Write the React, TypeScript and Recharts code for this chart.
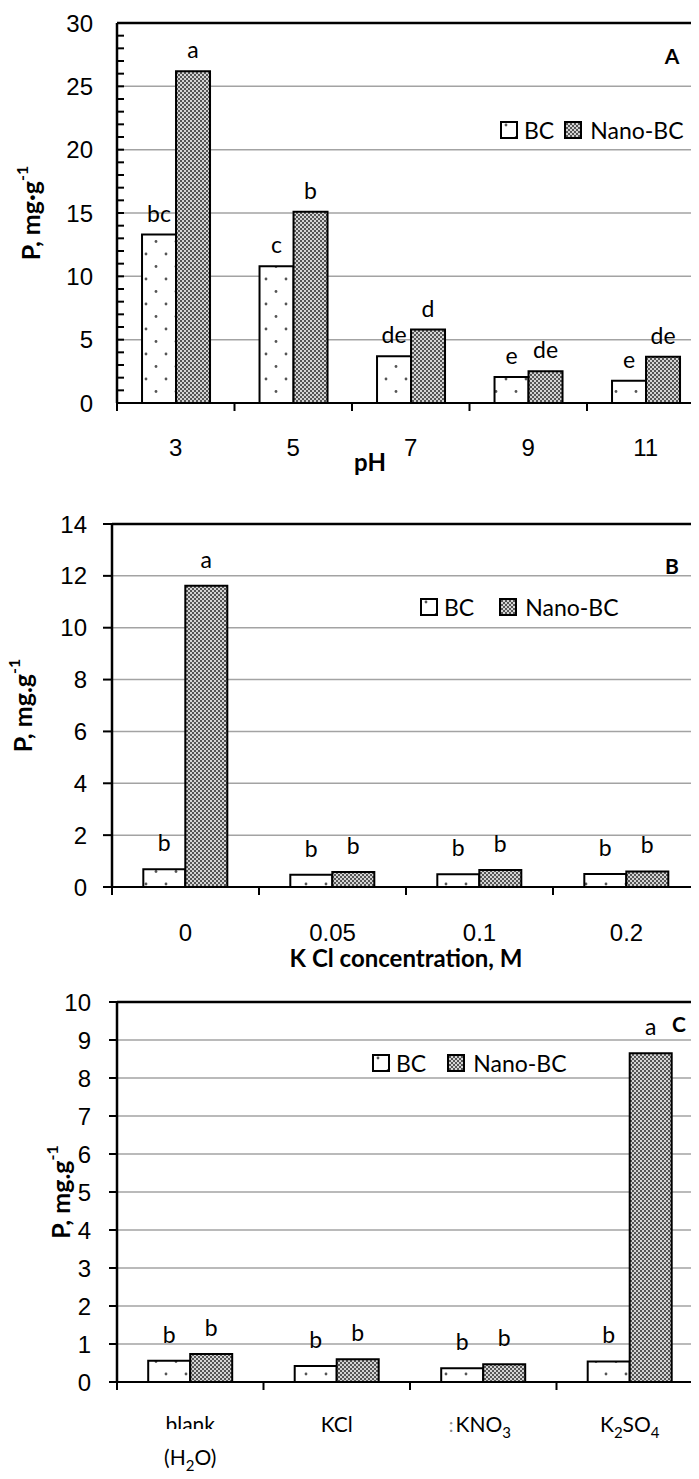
import React from 'react';
import { BarChart, Bar, XAxis, YAxis, CartesianGrid, ReferenceLine, LabelList, Legend } from 'recharts';

// ---------- Panel A: pH ----------
const phCategories = ['3', '5', '7', '9', '11'];
const phBC = [13.3, 10.8, 3.7, 2.05, 1.75];
const phNano = [26.2, 15.1, 5.8, 2.5, 3.65];
const phBCLetters = ['bc', 'c', 'de', 'e', 'e'];
const phNanoLetters = ['a', 'b', 'd', 'de', 'de'];
const phTicks = [0, 5, 10, 15, 20, 25, 30];
const phMinorTicks = [1, 2, 3, 4, 5, 6, 7, 8, 9, 10, 11, 12, 13, 14, 15, 16, 17, 18, 19, 20, 21, 22, 23, 24, 25, 26, 27, 28, 29];

// ---------- Panel B: KCl concentration ----------
const kclCategories = ['0', '0.05', '0.1', '0.2'];
const kclBC = [0.68, 0.47, 0.49, 0.5];
const kclNano = [11.62, 0.58, 0.66, 0.6];
const kclBCLetters = ['b', 'b', 'b', 'b'];
const kclNanoLetters = ['a', 'b', 'b', 'b'];
const kclTicks = [0, 2, 4, 6, 8, 10, 12, 14];

// ---------- Panel C: salts ----------
const saltCategories = ['blank', 'KCl', 'KNO3', 'K2SO4'];
const saltBC = [0.56, 0.42, 0.36, 0.54];
const saltNano = [0.74, 0.6, 0.47, 8.65];
const saltBCLetters = ['b', 'b', 'b', 'b'];
const saltNanoLetters = ['b', 'b', 'b', 'a'];
const saltTicks = [0, 1, 2, 3, 4, 5, 6, 7, 8, 9, 10];

const buildRows = (cats: string[], bc: number[], nano: number[], bcL: string[], nanoL: string[]) =>
  cats.map((c, i) => ({ cat: c, bc: bc[i], nano: nano[i], bcL: bcL[i], nanoL: nanoL[i] }));

const rowsA = buildRows(phCategories, phBC, phNano, phBCLetters, phNanoLetters);
const rowsB = buildRows(kclCategories, kclBC, kclNano, kclBCLetters, kclNanoLetters);
const rowsC = buildRows(saltCategories, saltBC, saltNano, saltBCLetters, saltNanoLetters);

const ARIAL = '"Liberation Sans", Arial, sans-serif';
const CALIBRI = 'Lato, "Open Sans", sans-serif';
const CHART_W = 712;
const NUM_FONT = 24;
const LETTER_FONT = 23;

const Patterns = ({ id }: { id: string }) => (
  <defs>
    <pattern id={`dots-${id}`} patternUnits="userSpaceOnUse" width={20} height={25}>
      <rect x={0} y={0} width={20} height={25} fill="#fff" />
      <circle cx={6} cy={4} r={1.4} fill="#555" />
      <circle cx={16} cy={16.5} r={1.4} fill="#555" />
    </pattern>
    <pattern id={`check-${id}`} patternUnits="userSpaceOnUse" width={4} height={4}>
      <rect x={0} y={0} width={4} height={4} fill="#d4d4d4" />
      <rect x={0} y={0} width={2} height={2} fill="#555" />
      <rect x={2} y={2} width={2} height={2} fill="#555" />
    </pattern>
  </defs>
);

const Swatch = ({ kind, id }: { kind: 'dots' | 'check'; id: string }) => (
  <svg width={18} height={18} style={{ display: 'block' }}>
    <Patterns id={`sw-${id}`} />
    <rect x={1} y={1} width={16} height={16} fill={`url(#${kind}-sw-${id})`} stroke="#000" strokeWidth={2} />
  </svg>
);

const makeLegend = (id: string, gap: number) => () => (
  <div style={{ display: 'flex', alignItems: 'center', fontFamily: CALIBRI, fontSize: 23, color: '#000', lineHeight: '26px', whiteSpace: 'nowrap' }}>
    <Swatch kind="dots" id={id} />
    <span style={{ marginLeft: 6 }}>BC</span>
    <span style={{ display: 'inline-block', width: gap }} />
    <Swatch kind="check" id={id} />
    <span style={{ marginLeft: 8 }}>Nano-BC</span>
  </div>
);

const makeYTitle = (x: number, y: number, dot: string) => () => (
  <text
    x={x}
    y={y}
    transform={`rotate(-90, ${x}, ${y})`}
    textAnchor="middle"
    dominantBaseline="central"
    fontFamily={CALIBRI}
    fontWeight="bold"
    fontSize={25}
    fill="#000"
  >
    {`P, mg${dot}g`}
    <tspan dy={-9} fontSize={16}>-1</tspan>
  </text>
);

const subscriptLabel = (name: string) => {
  if (name === 'KNO3')
    return (
      <>
        KNO<tspan dy={6} fontSize={15}>3</tspan>
      </>
    );
  if (name === 'K2SO4')
    return (
      <>
        K<tspan dy={6} fontSize={15}>2</tspan>
        <tspan dy={-6}>SO</tspan>
        <tspan dy={6} fontSize={15}>4</tspan>
      </>
    );
  return name;
};

const makeXTick = (band: number, n: number, labelDy: number, kind: 'num' | 'salt') => (props: any) => {
  const { x, y, payload, index } = props;
  const value = String(payload.value);
  const left = x - band / 2;
  return (
    <g>
      <line x1={left} x2={left} y1={y} y2={y + 8} stroke="#000" strokeWidth={2} />
      {index === n - 1 && <line x1={x + band / 2} x2={x + band / 2} y1={y} y2={y + 8} stroke="#000" strokeWidth={2} />}
      {kind === 'num' ? (
        <text x={x} y={y + labelDy} dy="0.355em" textAnchor="middle" fontFamily={ARIAL} fontSize={NUM_FONT} fill="#000">
          {value}
        </text>
      ) : value === 'blank' ? (
        <g>
          <clipPath id="blank-clip">
            <rect x={x - 50} y={y + 20} width={100} height={27} />
          </clipPath>
          <text clipPath="url(#blank-clip)" x={x} y={y + labelDy} dy="0.355em" textAnchor="middle" fontFamily={CALIBRI} fontSize={21} fill="#000">
            blank
          </text>
          <text x={x} y={y + 76} dy="0.355em" textAnchor="middle" fontFamily={CALIBRI} fontSize={21} fill="#000">
            (H<tspan dy={6} fontSize={15}>2</tspan>
            <tspan dy={-6}>O)</tspan>
          </text>
        </g>
      ) : (
        <g>
          {value === 'KNO3' && (
            <text x={x - 32} y={y + labelDy} dy="0.355em" textAnchor="middle" fontFamily={CALIBRI} fontSize={19} fill="#888">
              :
            </text>
          )}
          <text x={x} y={y + labelDy} dy="0.355em" textAnchor="middle" fontFamily={CALIBRI} fontSize={21} fill="#000">
            {subscriptLabel(value)}
          </text>
        </g>
      )}
    </g>
  );
};

// short inward tick drawn at the left end of a reference line
const minorTickShape = (props: any) => {
  const x1 = Math.min(props.x1, props.x2);
  return <line x1={x1} x2={x1 + 7} y1={props.y1} y2={props.y1} stroke="#000" strokeWidth={2} />;
};

type PanelProps = {
  id: string;
  top: number;
  height: number;
  plotTop: number;
  plotBottom: number;
  plotLeft: number;
  plotRight: number;
  rows: any[];
  ticks: number[];
  minorTicks?: number[];
  yTickSize: number;
  yTickMargin: number;
  xKind: 'num' | 'salt';
  xLabelDy: number;
  labelOffset: number;
  titleX: number;
  dot: string;
  legendLeft: number;
  legendTop: number;
  legendGap: number;
};

const XAXIS_H = 70;

const Panel = (p: PanelProps) => {
  const n = p.rows.length;
  const band = (p.plotRight - p.plotLeft) / n;
  const yMax = p.ticks[p.ticks.length - 1];
  const titleY = (p.plotTop + p.plotBottom) / 2;
  return (
    <div style={{ position: 'absolute', left: 0, top: p.top, width: CHART_W, height: p.height }}>
      <BarChart
        width={CHART_W}
        height={p.height}
        data={p.rows}
        margin={{ top: p.plotTop, right: CHART_W - p.plotRight, left: 0, bottom: p.height - p.plotBottom - XAXIS_H }}
        barCategoryGap="21.3%"
        barGap={0}
      >
        <Patterns id={p.id} />
        <CartesianGrid vertical={false} horizontalValues={p.ticks} stroke="#a3a3a3" strokeWidth={1.5} />
        <XAxis
          dataKey="cat"
          height={XAXIS_H}
          axisLine={{ stroke: '#000', strokeWidth: 2 }}
          tickLine={false}
          tickSize={0}
          tickMargin={0}
          interval={0}
          tick={makeXTick(band, n, p.xLabelDy, p.xKind)}
        />
        <YAxis
          type="number"
          width={p.plotLeft}
          domain={[0, yMax]}
          ticks={p.ticks}
          interval={0}
          axisLine={{ stroke: '#000', strokeWidth: 2.5 }}
          tickLine={p.yTickSize > 0 ? { stroke: '#000', strokeWidth: 2 } : false}
          tickSize={p.yTickSize}
          tickMargin={p.yTickMargin}
          tick={{ fontFamily: ARIAL, fontSize: NUM_FONT, fill: '#000' }}
          label={makeYTitle(p.titleX, titleY, p.dot)}
        />
        {(p.minorTicks || []).map((v) => (
          <ReferenceLine key={`m${v}`} y={v} stroke="#000" shape={minorTickShape} />
        ))}
        <ReferenceLine y={yMax} stroke="#000" strokeWidth={2.5} />
        <Legend
          layout="horizontal"
          verticalAlign="middle"
          align="center"
          wrapperStyle={{ left: p.legendLeft, top: p.legendTop, width: 'auto', height: 'auto' }}
          content={makeLegend(p.id, p.legendGap)}
        />
        <Bar dataKey="bc" name="BC" fill={`url(#dots-${p.id})`} stroke="#000" strokeWidth={2} isAnimationActive={false}>
          <LabelList dataKey="bcL" position="top" offset={p.labelOffset} fontFamily={CALIBRI} fontSize={LETTER_FONT} fill="#000" />
        </Bar>
        <Bar dataKey="nano" name="Nano-BC" fill={`url(#check-${p.id})`} stroke="#000" strokeWidth={2} isAnimationActive={false}>
          <LabelList dataKey="nanoL" position="top" offset={p.labelOffset} fontFamily={CALIBRI} fontSize={LETTER_FONT} fill="#000" />
        </Bar>
      </BarChart>
    </div>
  );
};

const absText = (cx: number, cy: number, size: number): React.CSSProperties => ({
  position: 'absolute',
  left: cx,
  top: cy,
  transform: 'translate(-50%, -50%)',
  fontFamily: CALIBRI,
  fontWeight: 'bold',
  fontSize: size,
  color: '#000',
  whiteSpace: 'nowrap',
  lineHeight: 1,
});

export default function App() {
  return (
    <div style={{ position: 'relative', width: 699, height: 1479, margin: -8, overflow: 'hidden', background: '#fff' }}>
      <Panel
        id="A"
        top={0}
        height={480}
        plotTop={23}
        plotBottom={403}
        plotLeft={117}
        plotRight={704.5}
        rows={rowsA}
        ticks={phTicks}
        minorTicks={phMinorTicks}
        yTickSize={0}
        yTickMargin={24}
        xKind="num"
        xLabelDy={44}
        labelOffset={13}
        titleX={30}
        dot="·"
        legendLeft={500}
        legendTop={117}
        legendGap={10}
      />
      <Panel
        id="B"
        top={480}
        height={490}
        plotTop={44}
        plotBottom={407}
        plotLeft={112}
        plotRight={700}
        rows={rowsB}
        ticks={kclTicks}
        yTickSize={9}
        yTickMargin={16}
        xKind="num"
        xLabelDy={45}
        labelOffset={18}
        titleX={22}
        dot="."
        legendLeft={420}
        legendTop={114}
        legendGap={25}
      />
      <Panel
        id="C"
        top={970}
        height={509}
        plotTop={32}
        plotBottom={412}
        plotLeft={117}
        plotRight={703}
        rows={rowsC}
        ticks={saltTicks}
        yTickSize={8}
        yTickMargin={18}
        xKind="salt"
        xLabelDy={43}
        labelOffset={18}
        titleX={60}
        dot="."
        legendLeft={372}
        legendTop={80}
        legendGap={21}
      />
      <div style={absText(672, 55, 21)}>A</div>
      <div style={absText(672, 565, 21)}>B</div>
      <div style={absText(679, 1023, 21)}>C</div>
      <div style={absText(370, 462, 24)}>pH</div>
      <div style={absText(406, 958, 24)}>K Cl concentration, M</div>
    </div>
  );
}
